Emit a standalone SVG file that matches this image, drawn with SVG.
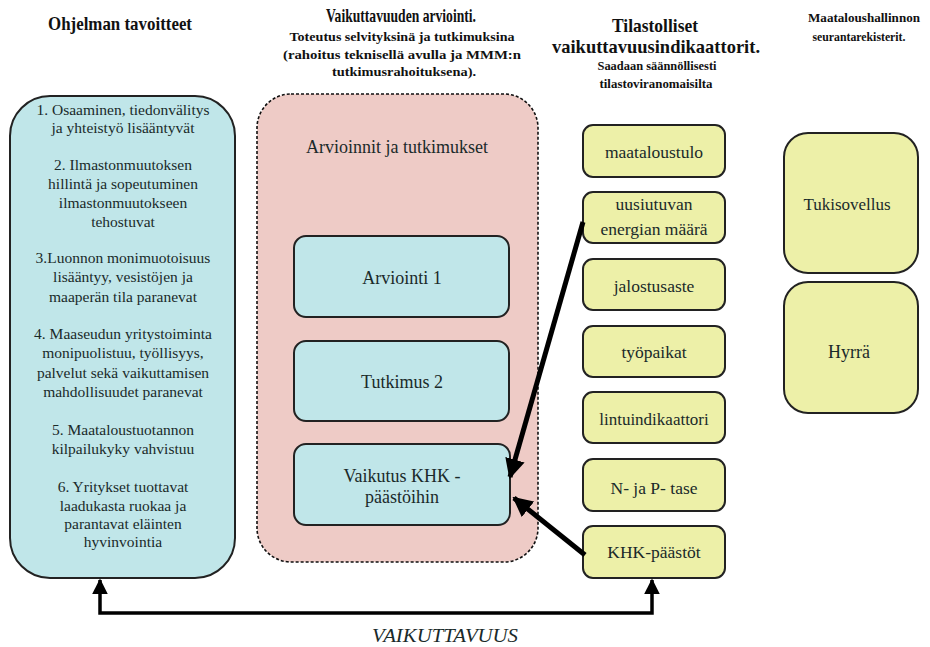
<svg xmlns="http://www.w3.org/2000/svg" width="930" height="647" viewBox="0 0 930 647">
<defs>
<style>
.hdr{font-weight:bold;fill:#111;text-anchor:middle}
.t{fill:#1a2a2a;text-anchor:middle}
.blue{fill:#c0e6e9;stroke:#222;stroke-width:2}
.yel{fill:#edf0a8;stroke:#222;stroke-width:2}
.pink{fill:#eecbc6;stroke:#111;stroke-width:1.6;stroke-dasharray:3 2}
.conn{fill:none;stroke:#000;stroke-width:5}
.conn2{fill:none;stroke:#000;stroke-width:3.5}
</style>
<marker id="ah" viewBox="0 0 10 10" refX="9" refY="5" markerWidth="4" markerHeight="4" orient="auto-start-reverse" markerUnits="strokeWidth">
<path d="M0,0 L10,5 L0,10 z" fill="#000"/>
</marker>
<marker id="ah2" viewBox="0 0 10 10" refX="9" refY="5" markerWidth="4.5" markerHeight="4.5" orient="auto-start-reverse" markerUnits="strokeWidth">
<path d="M0,0 L10,5 L0,10 z" fill="#000"/>
</marker>
</defs>
<rect width="930" height="647" fill="#fff"/>

<g font-family="Liberation Serif, DejaVu Serif, Noto Serif, serif">
<g id="headers" class="hdr">
<text x="120" y="30" font-size="19" textLength="144" lengthAdjust="spacingAndGlyphs">Ohjelman tavoitteet</text>
<text x="401" y="22" font-size="19" textLength="150" lengthAdjust="spacingAndGlyphs">Vaikuttavuuden arviointi.</text>
<text x="402" y="41" font-size="13.5" textLength="225" lengthAdjust="spacingAndGlyphs">Toteutus selvityksinä ja tutkimuksina</text>
<text x="402" y="59" font-size="13.5" textLength="238" lengthAdjust="spacingAndGlyphs">(rahoitus teknisellä avulla ja MMM:n</text>
<text x="404" y="76" font-size="13.5" textLength="144" lengthAdjust="spacingAndGlyphs">tutkimusrahoituksena).</text>
<text x="655" y="32" font-size="19" textLength="86" lengthAdjust="spacingAndGlyphs">Tilastolliset</text>
<text x="656" y="53" font-size="19" textLength="208" lengthAdjust="spacingAndGlyphs">vaikuttavuusindikaattorit.</text>
<text x="657" y="70" font-size="13.5" textLength="119" lengthAdjust="spacingAndGlyphs">Saadaan säännöllisesti</text>
<text x="656" y="88" font-size="13.5" textLength="113" lengthAdjust="spacingAndGlyphs">tilastoviranomaisilta</text>
<text x="864" y="22" font-size="12.5" textLength="112" lengthAdjust="spacingAndGlyphs">Maataloushallinnon</text>
<text x="859" y="41" font-size="12.5" textLength="93" lengthAdjust="spacingAndGlyphs">seurantarekisterit.</text>
</g>

<g id="goals">
<rect class="blue" x="10" y="96" width="225" height="482" rx="40"/>
<g class="t" font-size="15.5">
<text x="123" y="115">1. Osaaminen, tiedonvälitys</text>
<text x="123" y="133">ja yhteistyö lisääntyvät</text>
<text x="123" y="170">2. Ilmastonmuutoksen</text>
<text x="123" y="189">hillintä ja sopeutuminen</text>
<text x="123" y="208">ilmastonmuutokseen</text>
<text x="123" y="227">tehostuvat</text>
<text x="123" y="263">3.Luonnon monimuotoisuus</text>
<text x="123" y="282">lisääntyy, vesistöjen ja</text>
<text x="123" y="302">maaperän tila paranevat</text>
<text x="123" y="339">4. Maaseudun yritystoiminta</text>
<text x="123" y="358">monipuolistuu, työllisyys,</text>
<text x="123" y="378">palvelut sekä vaikuttamisen</text>
<text x="123" y="397">mahdollisuudet paranevat</text>
<text x="123" y="435">5. Maataloustuotannon</text>
<text x="123" y="454">kilpailukyky vahvistuu</text>
<text x="123" y="492">6. Yritykset tuottavat</text>
<text x="123" y="511">laadukasta ruokaa ja</text>
<text x="123" y="529">parantavat eläinten</text>
<text x="123" y="547">hyvinvointia</text>
</g>
</g>

<g id="evaluation">
<rect class="pink" x="257" y="94" width="281" height="468" rx="34"/>
<text class="t" x="397" y="153" font-size="18">Arvioinnit ja tutkimukset</text>
</g>

<g id="arviointi1">
<rect class="blue" x="294" y="236" width="215" height="81" rx="12"/>
<text class="t" x="402" y="284" font-size="18">Arviointi 1</text>
</g>
<g id="tutkimus2">
<rect class="blue" x="294" y="341" width="215" height="80" rx="12"/>
<text class="t" x="402" y="388" font-size="18">Tutkimus 2</text>
</g>
<g id="vaikutus">
<rect class="blue" x="294" y="444" width="216" height="81" rx="12"/>
<text class="t" x="402" y="482" font-size="18">Vaikutus KHK -</text>
<text class="t" x="402" y="503" font-size="18">päästöihin</text>
</g>

<g id="maataloustulo">
<rect class="yel" x="583" y="125" width="142" height="52" rx="10"/>
<text class="t" x="654" y="158" font-size="17.5">maataloustulo</text>
</g>
<g id="uusiutuva">
<rect class="yel" x="583" y="192" width="142" height="51" rx="10"/>
<text class="t" x="654" y="210" font-size="17.5">uusiutuvan</text>
<text class="t" x="654" y="235" font-size="17.5">energian määrä</text>
</g>
<g id="jalostusaste">
<rect class="yel" x="583" y="259" width="142" height="51" rx="10"/>
<text class="t" x="654" y="292" font-size="17.5">jalostusaste</text>
</g>
<g id="tyopaikat">
<rect class="yel" x="583" y="326" width="142" height="51" rx="10"/>
<text class="t" x="654" y="358" font-size="17.5">työpaikat</text>
</g>
<g id="lintuindikaattori">
<rect class="yel" x="583" y="392" width="142" height="51" rx="10"/>
<text class="t" x="654" y="425" font-size="17">lintuindikaattori</text>
</g>
<g id="np-tase">
<rect class="yel" x="583" y="459" width="142" height="52" rx="10"/>
<text class="t" x="654" y="494" font-size="17.5">N- ja P- tase</text>
</g>
<g id="khk-paastot">
<rect class="yel" x="583" y="526" width="142" height="52" rx="10"/>
<text class="t" x="654" y="558" font-size="17.5">KHK-päästöt</text>
</g>

<g id="tukisovellus">
<rect class="yel" x="784" y="133" width="134" height="140" rx="24"/>
<text class="t" x="847" y="210" font-size="17">Tukisovellus</text>
</g>
<g id="hyrra">
<rect class="yel" x="784" y="282" width="134" height="131" rx="24"/>
<text class="t" x="849" y="358" font-size="18">Hyrrä</text>
</g>

<g id="connectors">
<line class="conn" x1="583" y1="222" x2="510" y2="477" marker-end="url(#ah)"/>
<line class="conn" x1="585" y1="555" x2="514" y2="498" marker-end="url(#ah)"/>
<path class="conn2" d="M100,580 L100,613 L652,613 L652,580" marker-start="url(#ah2)" marker-end="url(#ah2)"/>
<text class="t" x="445" y="642" font-size="19" font-style="italic" textLength="146" lengthAdjust="spacingAndGlyphs">VAIKUTTAVUUS</text>
</g>
</g>
</svg>
